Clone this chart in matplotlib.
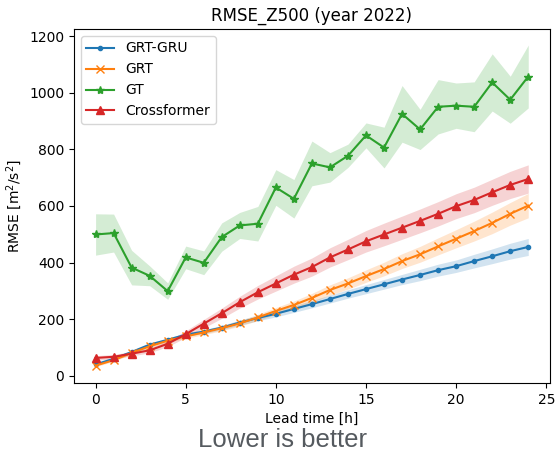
import numpy as np
import matplotlib
matplotlib.use("Agg")
import matplotlib.pyplot as plt

# lead times (hours)
lead = np.arange(25)

# mean RMSE per model
grt_gru = [40, 60, 84, 110, 127, 145, 156, 170, 188, 204, 219, 236, 253, 271, 289,
           306, 323, 340, 356, 373, 387, 405, 422, 440, 455]
grt = [36, 55, 81, 104, 124, 139, 153, 168, 185, 206, 229, 250, 275, 303, 326,
       352, 377, 405, 429, 457, 484, 511, 540, 572, 601]
gt = [499, 504, 382, 353, 299, 418, 399, 490, 531, 537, 665, 625, 750, 736, 777,
      849, 806, 925, 870, 950, 954, 950, 1036, 975, 1057]
crossformer = [63, 67, 78, 90, 113, 147, 184, 221, 260, 295, 326, 357, 384, 418, 446,
               475, 499, 523, 547, 572, 599, 621, 648, 674, 695]

# half width of the shaded bands
grt_gru_sd = [4, 4, 5, 5, 6, 6, 7, 8, 9, 10, 11, 12, 13, 14, 15,
              16, 17, 18, 20, 21, 22, 24, 26, 28, 30]
grt_sd = [4, 4, 5, 5, 6, 7, 8, 9, 10, 11, 12, 14, 16, 18, 20,
          22, 24, 26, 28, 30, 32, 35, 38, 40, 43]
gt_sd = [73, 67, 61, 35, 29, 40, 42, 50, 46, 61, 63, 68, 79, 52, 41,
         44, 72, 100, 71, 96, 80, 88, 101, 83, 111]
crossformer_sd = [8, 8, 8, 9, 10, 12, 15, 18, 21, 24, 27, 30, 32, 34, 36,
                  38, 40, 41, 42, 43, 44, 45, 46, 48, 50]

series = [("GRT-GRU", grt_gru, grt_gru_sd, "."),
          ("GRT", grt, grt_sd, "x"),
          ("GT", gt, gt_sd, "*"),
          ("Crossformer", crossformer, crossformer_sd, "^")]

fig = plt.figure(figsize=(5.56, 4.53), dpi=100)
ax = fig.add_axes([0.133, 0.155, 0.856, 0.781])

for name, mean, sd, mk in series:
    mean = np.array(mean)
    sd = np.array(sd)
    line, = ax.plot(lead, mean, marker=mk, label=name)
    ax.fill_between(lead, mean - sd, mean + sd, color=line.get_color(), alpha=0.2, linewidth=0)

ax.set_title("RMSE_Z500 (year 2022)")
ax.set_xlabel("Lead time [h]")
ax.set_ylabel("RMSE [m$^2$/s$^2$]")
ax.legend(loc="upper left")

fig.text(0.508, 0.014, "Lower is better", ha="center", va="baseline",
         family="Liberation Sans", fontsize=18.5, color="#555a5f")

plt.savefig("out.png", dpi=100)
